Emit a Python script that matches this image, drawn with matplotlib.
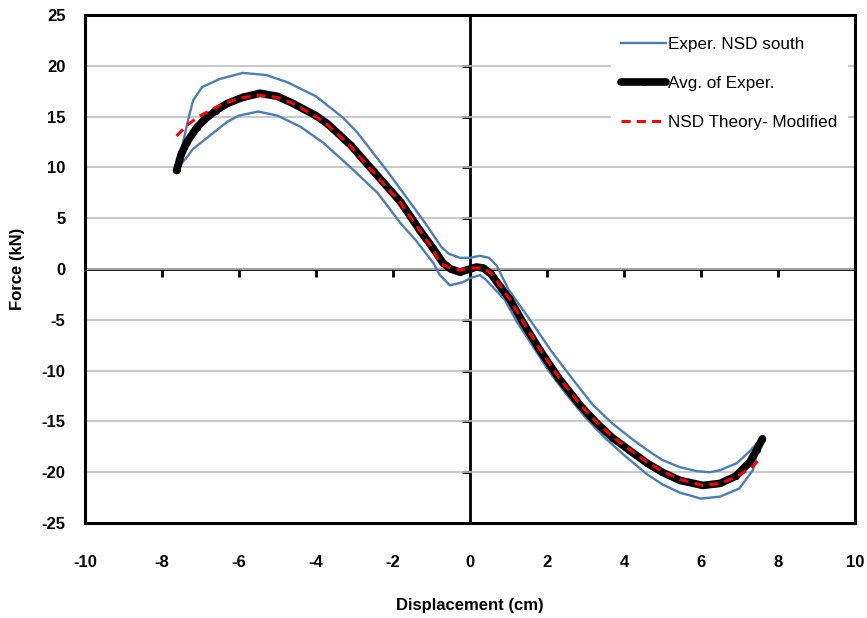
import matplotlib.pyplot as plt
import numpy as np

# Data
# blue loop: upper branch left->right, then lower branch right->left
blue_x = [-7.58, -7.45, -7.3, -7.19, -6.96, -6.5, -5.9, -5.3, -4.75, -4.0, -3.3, -2.94, -2.16,
          -1.6, -1.12, -0.75, -0.55, -0.26, 0.0, 0.26, 0.5, 0.7, 1.0, 1.56, 2.1, 2.68, 3.2, 3.7,
          4.2, 4.6, 5.0, 5.45, 5.9, 6.23, 6.5, 6.75, 6.94, 7.25, 7.55,
          7.35, 7.0, 6.5, 6.0, 5.45, 5.0, 4.6, 4.0, 3.5, 3.0, 2.5, 2.08, 1.6, 1.22, 0.9, 0.6,
          0.4, 0.26, 0.0, -0.18, -0.52, -0.78, -0.95, -1.4, -1.8, -2.4, -3.1, -3.8, -4.4, -5.0,
          -5.5, -6.0, -6.3, -6.8, -7.2, -7.35, -7.58]
blue_y = [10.0, 12.5, 15.0, 16.6, 17.9, 18.7, 19.3, 19.1, 18.4, 17.0, 14.9, 13.5, 9.7,
          6.8, 4.3, 2.2, 1.5, 1.1, 1.1, 1.3, 1.1, 0.3, -2.0, -5.0, -8.0, -10.9, -13.4, -15.2,
          -16.7, -17.8, -18.8, -19.5, -19.9, -20.0, -19.8, -19.4, -19.1, -18.0, -16.8,
          -19.8, -21.6, -22.4, -22.6, -22.0, -21.2, -20.2, -18.3, -16.6, -14.6, -12.3, -10.2,
          -7.4, -5.2, -3.0, -1.8, -1.0, -0.6, -0.9, -1.3, -1.6, -0.6, 0.6, 2.8, 4.5, 7.5, 10.0,
          12.4, 14.0, 15.1, 15.5, 15.1, 14.5, 13.0, 11.8, 11.0, 10.0]

avg_x = [-7.62, -7.5, -7.35, -7.1, -6.9, -6.6, -6.3, -5.9, -5.45, -5.0, -4.6, -4.0, -3.7, -3.1,
         -2.5, -1.8, -1.3, -0.95, -0.7, -0.5, -0.26, 0.0, 0.17, 0.35, 0.55, 0.8, 1.04, 1.4,
         1.82, 2.3, 2.86, 3.3, 3.7, 4.2, 4.6, 5.0, 5.45, 6.05, 6.5, 6.9, 7.27, 7.45, 7.6]
avg_y = [9.7, 11.3, 12.5, 13.9, 14.7, 15.6, 16.3, 16.9, 17.3, 17.0, 16.3, 15.1, 14.3, 12.2,
         9.6, 6.6, 3.8, 2.0, 0.6, 0.0, -0.3, 0.0, 0.2, 0.1, -0.5, -1.8, -3.0, -5.4,
         -8.0, -10.7, -13.4, -15.2, -16.6, -18.0, -19.1, -20.0, -20.8, -21.3, -21.1, -20.4,
         -19.0, -17.8, -16.7]

theo_x = [-7.62, -7.3, -7.0, -6.5, -6.0, -5.5, -5.0, -4.6, -4.0, -3.7, -3.1, -2.5, -1.8, -1.3,
          -0.95, -0.78, -0.5, -0.26, 0.0, 0.34, 0.55, 0.8, 1.04, 1.4, 1.82, 2.3, 2.86, 3.3,
          3.7, 4.2, 4.6, 5.0, 5.45, 6.05, 6.5, 6.9, 7.3, 7.58]
theo_y = [13.1, 14.3, 15.1, 16.1, 16.8, 17.1, 16.9, 16.3, 15.0, 14.2, 12.1, 9.5, 6.5, 3.8,
          1.9, 0.6, 0.1, -0.1, 0.1, 0.1, -0.4, -1.7, -3.0, -5.3, -7.9, -10.6, -13.3, -15.1,
          -16.5, -17.9, -19.0, -19.9, -20.7, -21.3, -21.1, -20.5, -19.6, -18.5]

plt.rcParams['font.family'] = ['Liberation Sans', 'DejaVu Sans']
plt.rcParams['axes.unicode_minus'] = False

fig = plt.figure(figsize=(8.67, 6.18), dpi=100)
ax = fig.add_axes([0.098, 0.1537, 0.888, 0.822])

ax.plot(blue_x, blue_y, color='#4a7ebb', lw=1.7, label='Exper. NSD south', zorder=3)
ax.plot(avg_x, avg_y, color='black', lw=5.5, solid_capstyle='round', marker='o', ms=4,
        label='Avg. of Exper.', zorder=4)
ax.plot(theo_x, theo_y, color='#ff0000', lw=2.2, ls=(0, (3, 2)), label='NSD Theory- Modified',
        zorder=5)

ax.set_xlim(-10, 10)
ax.set_ylim(-25, 25)
ax.set_xticks(np.arange(-10, 11, 2))
ax.set_yticks(np.arange(-25, 26, 5))
ax.yaxis.grid(True, color='#bfbfbf', lw=1.2)
ax.set_axisbelow(True)
for s in ax.spines.values():
    s.set_linewidth(2.2)
ax.tick_params(axis='x', length=0, pad=23, labelsize=12)
ax.tick_params(axis='y', length=0, pad=14, labelsize=12)
for lab in ax.get_xticklabels() + ax.get_yticklabels():
    lab.set_fontweight('bold')

# axes crossing at zero with tick marks (pointing down / left)
secx = ax.secondary_xaxis(0.5)
secx.set_xticks(np.arange(-8, 9, 2))
secx.set_xticklabels([])
secx.tick_params(length=6, width=2, direction='in')
for s in secx.spines.values():
    s.set_linewidth(2)
secy = ax.secondary_yaxis(0.5)
secy.set_yticks(np.arange(-20, 21, 5))
secy.set_yticklabels([])
secy.tick_params(length=6, width=2, direction='in')
for s in secy.spines.values():
    s.set_linewidth(2)

ax.set_xlabel('Displacement (cm)', fontsize=12, fontweight='bold', labelpad=20)
ax.set_ylabel('Force (kN)', fontsize=12, fontweight='bold', labelpad=12)

leg = ax.legend(loc='upper right', bbox_to_anchor=(0.991, 0.976), frameon=True, fancybox=False,
                edgecolor='none', facecolor='white', framealpha=1, fontsize=12.3,
                handlelength=2.6, handletextpad=0.15, labelspacing=1.4, borderpad=0.6,
                borderaxespad=0)

fig.savefig('out.png', dpi=100)
